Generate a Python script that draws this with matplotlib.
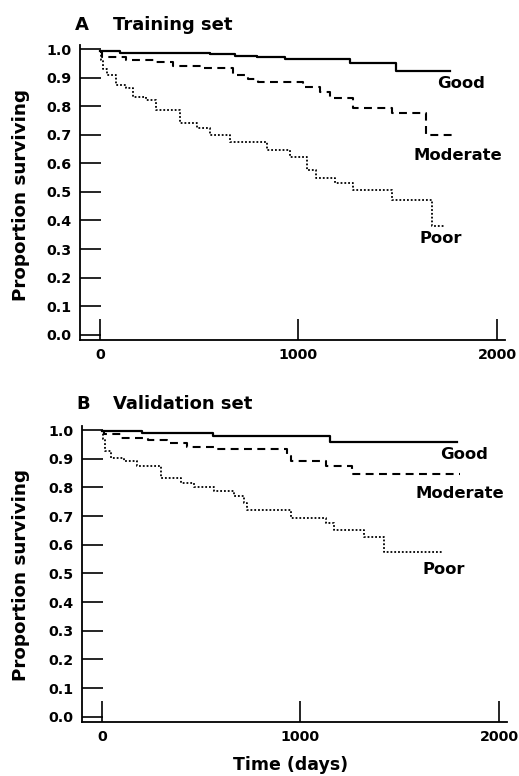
import matplotlib.pyplot as plt

# Panel A - training set (time in days, proportion surviving, step after)
a_good_t = [0, 100, 143, 554, 680, 790, 932, 1260, 1491, 1763]
a_good_s = [0.994, 0.987, 0.985, 0.981, 0.975, 0.971, 0.965, 0.952, 0.924, 0.924]

a_mod_t = [0, 10, 134, 285, 369, 520, 672, 747, 798, 1024, 1108, 1159, 1276, 1469, 1642, 1780]
a_mod_s = [0.99, 0.973, 0.962, 0.953, 0.942, 0.932, 0.909, 0.895, 0.884, 0.868,
           0.851, 0.827, 0.793, 0.775, 0.699, 0.699]

a_poor_t = [0, 5, 15, 34, 84, 134, 168, 235, 285, 403, 487, 554, 655, 840, 957,
            1041, 1091, 1184, 1276, 1469, 1671, 1738]
a_poor_s = [0.99, 0.96, 0.93, 0.909, 0.874, 0.863, 0.833, 0.82, 0.787, 0.741, 0.723,
            0.699, 0.676, 0.647, 0.623, 0.577, 0.548, 0.53, 0.507, 0.47, 0.381, 0.381]

# Panel B - validation set
b_good_t = [0, 204, 561, 1151, 1787]
b_good_s = [0.997, 0.988, 0.979, 0.958, 0.958]

b_mod_t = [0, 10, 95, 230, 330, 431, 564, 933, 950, 1126, 1260, 1804]
b_mod_s = [0.995, 0.985, 0.973, 0.964, 0.954, 0.942, 0.935, 0.91, 0.892, 0.875,
           0.846, 0.846]

b_poor_t = [0, 5, 15, 45, 112, 179, 296, 397, 464, 564, 665, 715, 732, 950, 1126,
            1167, 1318, 1419, 1712]
b_poor_s = [0.995, 0.97, 0.926, 0.904, 0.892, 0.875, 0.834, 0.817, 0.802, 0.788,
            0.771, 0.745, 0.721, 0.693, 0.675, 0.652, 0.626, 0.574, 0.574]

# label positions (days, proportion)
a_labels = [('Good', 1698, 0.88), ('Moderate', 1577, 0.629), ('Poor', 1612, 0.336)]
b_labels = [('Good', 1703, 0.913), ('Moderate', 1578, 0.78), ('Poor', 1613, 0.514)]

fnt = 'DejaVu Sans'

fig = plt.figure(figsize=(5.19, 7.76), dpi=100)
axA = fig.add_axes([0.154, 0.5619, 0.819, 0.3801])
axB = fig.add_axes([0.158, 0.0696, 0.819, 0.3814])


def panel(ax, good, mod, poor, labels):
    ax.step(good[0], good[1], where='post', color='black', lw=1.6)
    ax.step(mod[0], mod[1], where='post', color='black', lw=1.5, linestyle=(0, (3.8, 2.6)))
    ax.step(poor[0], poor[1], where='post', color='black', lw=1.3, linestyle=(0, (1, 1.1)))
    for txt, x, y in labels:
        ax.text(x, y, txt, fontsize=11.8, fontweight='bold', family=fnt,
                va='center', ha='left')
    ax.set_xlim(-100, 2040)
    ax.set_ylim(-0.018, 1.014)
    ax.spines['top'].set_visible(False)
    ax.spines['right'].set_visible(False)
    ax.spines['left'].set_linewidth(1.3)
    ax.spines['bottom'].set_linewidth(1.3)
    ax.set_xticks([0, 1000, 2000])
    ax.set_yticks([i / 10 for i in range(11)])
    ax.set_yticklabels(['%.1f' % (i / 10) for i in range(11)])
    ax.tick_params(direction='in', length=15, width=1.2, pad=6)
    for lab in ax.get_xticklabels() + ax.get_yticklabels():
        lab.set_fontsize(10.3)
        lab.set_fontweight('bold')
        lab.set_family(fnt)


panel(axA, (a_good_t, a_good_s), (a_mod_t, a_mod_s), (a_poor_t, a_poor_s), a_labels)
panel(axB, (b_good_t, b_good_s), (b_mod_t, b_mod_s), (b_poor_t, b_poor_s), b_labels)

# panel titles
fig.text(75 / 519, 1 - 25 / 776, 'A', fontsize=13, fontweight='bold', family=fnt, va='center')
fig.text(113 / 519, 1 - 25 / 776, 'Training set', fontsize=13, fontweight='bold',
         family=fnt, va='center')
fig.text(76 / 519, 1 - 404 / 776, 'B', fontsize=13, fontweight='bold', family=fnt, va='center')
fig.text(113 / 519, 1 - 404 / 776, 'Validation set', fontsize=13, fontweight='bold',
         family=fnt, va='center')

# axis labels
fig.text(21 / 519, 1 - 195 / 776, 'Proportion surviving', rotation=90, fontsize=13.2,
         fontweight='bold', family=fnt, va='center', ha='center')
fig.text(21 / 519, 1 - 575 / 776, 'Proportion surviving', rotation=90, fontsize=13.2,
         fontweight='bold', family=fnt, va='center', ha='center')
fig.text(291 / 519, 1 - 765 / 776, 'Time (days)', fontsize=12.5, fontweight='bold',
         family=fnt, va='center', ha='center')

fig.savefig('out.png', dpi=100)
